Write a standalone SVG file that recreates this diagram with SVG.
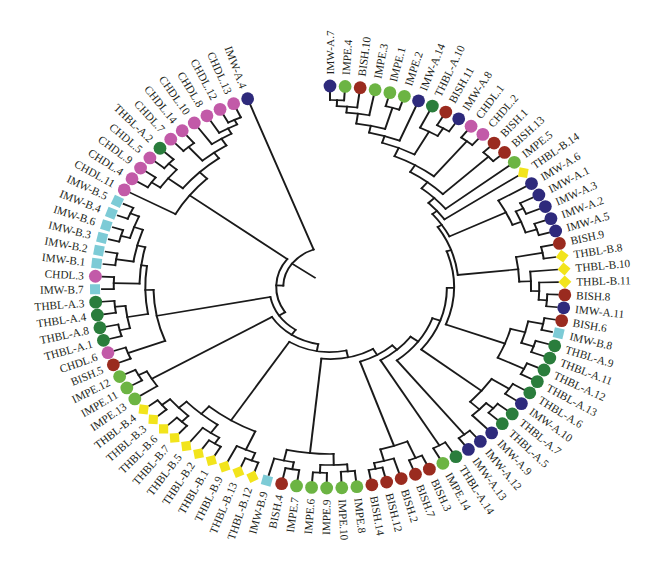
<svg xmlns="http://www.w3.org/2000/svg" xmlns:xlink="http://www.w3.org/1999/xlink" width="660" height="571" viewBox="0 0 660 571">
<style>
.tree line,.tree circle{fill:none;stroke:#1a1a1a;stroke-width:1.7;stroke-linecap:square}
text{font-family:"Liberation Serif","Times New Roman",serif;font-size:11.3px;fill:#231f20}
text.l{text-anchor:end}
.imwa{fill:#2e2a7c}.impe{fill:#6cb443}.bish{fill:#9a2b1f}.thba{fill:#2a7d3c}.chdl{fill:#c25aa8}.thbb{fill:#f2e41c}.imwb{fill:#7dcbd6}
</style>
<defs>
<circle id="o" r="6.4"/>
<rect id="s" x="-5" y="-5" width="10" height="10"/>
<path id="d" d="M0-6.5L6.5 0 0 6.5-6.5 0z"/>
</defs>
<rect width="660" height="571" fill="#fff"/>
<g id="connectors" class="tree" transform="translate(330,287) scale(1.169,1)">
<g id="leaf-branches">
<line y1="-187" y2="-195" transform="rotate(0)"/>
<line y1="-187" y2="-195" transform="rotate(3.69)"/>
<line y1="-181" y2="-195" transform="rotate(7.38)"/>
<line y1="-175" y2="-195" transform="rotate(11.07)"/>
<line y1="-187" y2="-195" transform="rotate(14.76)"/>
<line y1="-187" y2="-195" transform="rotate(18.45)"/>
<line y1="-158" y2="-195" transform="rotate(22.14)"/>
<line y1="-177" y2="-195" transform="rotate(25.83)"/>
<line y1="-186" y2="-195" transform="rotate(29.52)"/>
<line y1="-186" y2="-195" transform="rotate(33.21)"/>
<line y1="-187" y2="-195" transform="rotate(36.9)"/>
<line y1="-187" y2="-195" transform="rotate(40.59)"/>
<line y1="-188" y2="-195" transform="rotate(44.28)"/>
<line y1="-188" y2="-195" transform="rotate(47.97)"/>
<line y1="-126" y2="-195" transform="rotate(51.66)"/>
<line y1="-119" y2="-195" transform="rotate(55.35)"/>
<line y1="-168" y2="-195" transform="rotate(59.04)"/>
<line y1="-183" y2="-195" transform="rotate(62.73)"/>
<line y1="-183" y2="-195" transform="rotate(66.42)"/>
<line y1="-186" y2="-195" transform="rotate(70.11)"/>
<line y1="-186" y2="-195" transform="rotate(73.8)"/>
<line y1="-185" y2="-195" transform="rotate(77.49)"/>
<line y1="-185" y2="-195" transform="rotate(81.18)"/>
<line y1="-172" y2="-195" transform="rotate(84.87)"/>
<line y1="-179" y2="-195" transform="rotate(88.56)"/>
<line y1="-186" y2="-195" transform="rotate(92.25)"/>
<line y1="-186" y2="-195" transform="rotate(95.94)"/>
<line y1="-186" y2="-195" transform="rotate(99.63)"/>
<line y1="-186" y2="-195" transform="rotate(103.32)"/>
<line y1="-184" y2="-195" transform="rotate(107.01)"/>
<line y1="-184" y2="-195" transform="rotate(110.7)"/>
<line y1="-185" y2="-195" transform="rotate(114.39)"/>
<line y1="-185" y2="-195" transform="rotate(118.08)"/>
<line y1="-184" y2="-195" transform="rotate(121.77)"/>
<line y1="-184" y2="-195" transform="rotate(125.46)"/>
<line y1="-185" y2="-195" transform="rotate(129.15)"/>
<line y1="-185" y2="-195" transform="rotate(132.84)"/>
<line y1="-177" y2="-195" transform="rotate(136.53)"/>
<line y1="-187" y2="-195" transform="rotate(140.22)"/>
<line y1="-187" y2="-195" transform="rotate(143.91)"/>
<line y1="-184" y2="-195" transform="rotate(147.6)"/>
<line y1="-184" y2="-195" transform="rotate(151.29)"/>
<line y1="-186" y2="-195" transform="rotate(154.98)"/>
<line y1="-186" y2="-195" transform="rotate(158.67)"/>
<line y1="-180" y2="-195" transform="rotate(162.36)"/>
<line y1="-186" y2="-195" transform="rotate(166.05)"/>
<line y1="-186" y2="-195" transform="rotate(169.74)"/>
<line y1="-185" y2="-195" transform="rotate(173.43)"/>
<line y1="-185" y2="-195" transform="rotate(177.12)"/>
<line y1="-186" y2="-195" transform="rotate(180.81)"/>
<line y1="-186" y2="-195" transform="rotate(184.5)"/>
<line y1="-185" y2="-195" transform="rotate(188.19)"/>
<line y1="-185" y2="-195" transform="rotate(191.88)"/>
<line y1="-178" y2="-195" transform="rotate(195.57)"/>
<line y1="-186" y2="-195" transform="rotate(199.26)"/>
<line y1="-186" y2="-195" transform="rotate(202.95)"/>
<line y1="-178" y2="-195" transform="rotate(206.64)"/>
<line y1="-185" y2="-195" transform="rotate(210.33)"/>
<line y1="-185" y2="-195" transform="rotate(214.02)"/>
<line y1="-178" y2="-195" transform="rotate(217.71)"/>
<line y1="-185" y2="-195" transform="rotate(221.4)"/>
<line y1="-185" y2="-195" transform="rotate(225.09)"/>
<line y1="-186" y2="-195" transform="rotate(228.78)"/>
<line y1="-186" y2="-195" transform="rotate(232.47)"/>
<line y1="-178" y2="-195" transform="rotate(236.16)"/>
<line y1="-186" y2="-195" transform="rotate(239.85)"/>
<line y1="-186" y2="-195" transform="rotate(243.54)"/>
<line y1="-185" y2="-195" transform="rotate(247.23)"/>
<line y1="-185" y2="-195" transform="rotate(250.92)"/>
<line y1="-185" y2="-195" transform="rotate(254.61)"/>
<line y1="-185" y2="-195" transform="rotate(258.3)"/>
<line y1="-185" y2="-195" transform="rotate(261.99)"/>
<line y1="-185" y2="-195" transform="rotate(265.68)"/>
<line y1="-185" y2="-195" transform="rotate(269.37)"/>
<line y1="-185" y2="-195" transform="rotate(273.06)"/>
<line y1="-185" y2="-195" transform="rotate(276.75)"/>
<line y1="-185" y2="-195" transform="rotate(280.44)"/>
<line y1="-186" y2="-195" transform="rotate(284.13)"/>
<line y1="-186" y2="-195" transform="rotate(287.82)"/>
<line y1="-186" y2="-195" transform="rotate(291.51)"/>
<line y1="-186" y2="-195" transform="rotate(295.2)"/>
<line y1="-151" y2="-195" transform="rotate(298.89)"/>
<line y1="-185" y2="-195" transform="rotate(302.58)"/>
<line y1="-185" y2="-195" transform="rotate(306.27)"/>
<line y1="-185" y2="-195" transform="rotate(309.96)"/>
<line y1="-185" y2="-195" transform="rotate(313.65)"/>
<line y1="-185" y2="-195" transform="rotate(317.34)"/>
<line y1="-185" y2="-195" transform="rotate(321.03)"/>
<line y1="-175" y2="-195" transform="rotate(324.72)"/>
<line y1="-181" y2="-195" transform="rotate(328.41)"/>
<line y1="-186" y2="-195" transform="rotate(332.1)"/>
<line y1="-186" y2="-195" transform="rotate(335.79)"/>
<line y1="-40" y2="-195" transform="rotate(339.48)"/>
</g>
<g id="inner-branches">
<line y1="-181" y2="-187" transform="rotate(1.845)"/>
<line y1="-175" y2="-181" transform="rotate(4.61)"/>
<line y1="-165" y2="-175" transform="rotate(7.84)"/>
<line y1="-165" y2="-187" transform="rotate(16.6)"/>
<line y1="-158" y2="-165" transform="rotate(12.22)"/>
<line y1="-151" y2="-158" transform="rotate(17.18)"/>
<line y1="-177" y2="-186" transform="rotate(31.37)"/>
<line y1="-151" y2="-177" transform="rotate(28.6)"/>
<line y1="-142" y2="-151" transform="rotate(22.89)"/>
<line y1="-142" y2="-187" transform="rotate(38.75)"/>
<line y1="-134" y2="-142" transform="rotate(30.82)"/>
<line y1="-134" y2="-188" transform="rotate(46.13)"/>
<line y1="-126" y2="-134" transform="rotate(38.48)"/>
<line y1="-119" y2="-126" transform="rotate(45.07)"/>
<line y1="-114" y2="-119" transform="rotate(50.21)"/>
<line y1="-176" y2="-183" transform="rotate(64.58)"/>
<line y1="-176" y2="-186" transform="rotate(71.96)"/>
<line y1="-168" y2="-176" transform="rotate(68.27)"/>
<line y1="-114" y2="-168" transform="rotate(63.66)"/>
<line y1="-110" y2="-114" transform="rotate(56.94)"/>
<line y1="-162" y2="-185" transform="rotate(79.34)"/>
<line y1="-179" y2="-186" transform="rotate(94.1)"/>
<line y1="-172" y2="-179" transform="rotate(91.33)"/>
<line y1="-162" y2="-172" transform="rotate(88.1)"/>
<line y1="-110" y2="-162" transform="rotate(83.72)"/>
<line y1="-106" y2="-110" transform="rotate(70.33)"/>
<line y1="-173" y2="-186" transform="rotate(101.48)"/>
<line y1="-173" y2="-184" transform="rotate(108.86)"/>
<line y1="-160" y2="-173" transform="rotate(105.17)"/>
<line y1="-160" y2="-185" transform="rotate(116.24)"/>
<line y1="-106" y2="-160" transform="rotate(110.7)"/>
<line y1="-100" y2="-106" transform="rotate(90.52)"/>
<line y1="-166" y2="-184" transform="rotate(123.62)"/>
<line y1="-177" y2="-185" transform="rotate(131)"/>
<line y1="-166" y2="-177" transform="rotate(133.76)"/>
<line y1="-100" y2="-166" transform="rotate(128.69)"/>
<line y1="-93" y2="-100" transform="rotate(109.6)"/>
<line y1="-93" y2="-187" transform="rotate(142.07)"/>
<line y1="-85" y2="-93" transform="rotate(125.84)"/>
<line y1="-85" y2="-184" transform="rotate(149.45)"/>
<line y1="-79" y2="-85" transform="rotate(137.64)"/>
<line y1="-168" y2="-186" transform="rotate(156.83)"/>
<line y1="-180" y2="-186" transform="rotate(167.9)"/>
<line y1="-168" y2="-180" transform="rotate(165.13)"/>
<line y1="-79" y2="-168" transform="rotate(160.98)"/>
<line y1="-72" y2="-79" transform="rotate(149.31)"/>
<line y1="-178" y2="-185" transform="rotate(175.28)"/>
<line y1="-178" y2="-186" transform="rotate(182.66)"/>
<line y1="-167" y2="-178" transform="rotate(178.97)"/>
<line y1="-178" y2="-185" transform="rotate(190.04)"/>
<line y1="-167" y2="-178" transform="rotate(192.8)"/>
<line y1="-72" y2="-167" transform="rotate(185.89)"/>
<line y1="-65" y2="-72" transform="rotate(167.6)"/>
<line y1="-178" y2="-186" transform="rotate(201.1)"/>
<line y1="-158" y2="-178" transform="rotate(203.87)"/>
<line y1="-178" y2="-185" transform="rotate(212.18)"/>
<line y1="-168" y2="-178" transform="rotate(214.94)"/>
<line y1="-177" y2="-185" transform="rotate(223.24)"/>
<line y1="-177" y2="-186" transform="rotate(230.63)"/>
<line y1="-168" y2="-177" transform="rotate(226.93)"/>
<line y1="-158" y2="-168" transform="rotate(220.93)"/>
<line y1="-65" y2="-158" transform="rotate(212.4)"/>
<line y1="-58" y2="-65" transform="rotate(190)"/>
<line y1="-178" y2="-186" transform="rotate(241.7)"/>
<line y1="-58" y2="-178" transform="rotate(238.93)"/>
<line y1="-52" y2="-58" transform="rotate(214.47)"/>
<line y1="-151" y2="-185" transform="rotate(249.08)"/>
<line y1="-176" y2="-185" transform="rotate(256.46)"/>
<line y1="-176" y2="-185" transform="rotate(263.84)"/>
<line y1="-158" y2="-176" transform="rotate(260.15)"/>
<line y1="-163" y2="-185" transform="rotate(271.22)"/>
<line y1="-170" y2="-185" transform="rotate(278.6)"/>
<line y1="-178" y2="-186" transform="rotate(285.98)"/>
<line y1="-178" y2="-186" transform="rotate(293.36)"/>
<line y1="-170" y2="-178" transform="rotate(289.67)"/>
<line y1="-163" y2="-170" transform="rotate(284.13)"/>
<line y1="-158" y2="-163" transform="rotate(277.68)"/>
<line y1="-151" y2="-158" transform="rotate(268.91)"/>
<line y1="-52" y2="-151" transform="rotate(258.99)"/>
<line y1="-46" y2="-52" transform="rotate(236.73)"/>
<line y1="-181" y2="-186" transform="rotate(333.95)"/>
<line y1="-175" y2="-181" transform="rotate(331.18)"/>
<line y1="-167" y2="-175" transform="rotate(327.95)"/>
<line y1="-167" y2="-185" transform="rotate(319.19)"/>
<line y1="-160" y2="-167" transform="rotate(323.57)"/>
<line y1="-176" y2="-185" transform="rotate(311.81)"/>
<line y1="-176" y2="-185" transform="rotate(304.43)"/>
<line y1="-160" y2="-176" transform="rotate(308.12)"/>
<line y1="-151" y2="-160" transform="rotate(315.85)"/>
<line y1="-46" y2="-151" transform="rotate(307.37)"/>
<line y1="-40" y2="-46" transform="rotate(272.05)"/>
<line y1="-16" y2="-40" transform="rotate(305.77)"/>
</g>
<g id="arcs">
<circle r="187" pathLength="360" stroke-dasharray="3.69 360" transform="rotate(-90)"/>
<circle r="181" pathLength="360" stroke-dasharray="5.535 360" transform="rotate(-88.155)"/>
<circle r="175" pathLength="360" stroke-dasharray="6.46 360" transform="rotate(-85.39)"/>
<circle r="187" pathLength="360" stroke-dasharray="3.69 360" transform="rotate(-75.24)"/>
<circle r="165" pathLength="360" stroke-dasharray="8.76 360" transform="rotate(-82.16)"/>
<circle r="158" pathLength="360" stroke-dasharray="9.92 360" transform="rotate(-77.78)"/>
<circle r="186" pathLength="360" stroke-dasharray="3.69 360" transform="rotate(-60.48)"/>
<circle r="177" pathLength="360" stroke-dasharray="5.54 360" transform="rotate(-64.17)"/>
<circle r="151" pathLength="360" stroke-dasharray="11.42 360" transform="rotate(-72.82)"/>
<circle r="187" pathLength="360" stroke-dasharray="3.69 360" transform="rotate(-53.1)"/>
<circle r="142" pathLength="360" stroke-dasharray="15.86 360" transform="rotate(-67.11)"/>
<circle r="188" pathLength="360" stroke-dasharray="3.69 360" transform="rotate(-45.72)"/>
<circle r="134" pathLength="360" stroke-dasharray="15.31 360" transform="rotate(-59.18)"/>
<circle r="126" pathLength="360" stroke-dasharray="13.18 360" transform="rotate(-51.52)"/>
<circle r="119" pathLength="360" stroke-dasharray="10.28 360" transform="rotate(-44.93)"/>
<circle r="183" pathLength="360" stroke-dasharray="3.69 360" transform="rotate(-27.27)"/>
<circle r="186" pathLength="360" stroke-dasharray="3.69 360" transform="rotate(-19.89)"/>
<circle r="176" pathLength="360" stroke-dasharray="7.38 360" transform="rotate(-25.42)"/>
<circle r="168" pathLength="360" stroke-dasharray="9.23 360" transform="rotate(-30.96)"/>
<circle r="114" pathLength="360" stroke-dasharray="13.45 360" transform="rotate(-39.79)"/>
<circle r="185" pathLength="360" stroke-dasharray="3.69 360" transform="rotate(-12.51)"/>
<circle r="186" pathLength="360" stroke-dasharray="3.69 360" transform="rotate(2.25)"/>
<circle r="179" pathLength="360" stroke-dasharray="5.54 360" transform="rotate(-1.44)"/>
<circle r="172" pathLength="360" stroke-dasharray="6.46 360" transform="rotate(-5.13)"/>
<circle r="162" pathLength="360" stroke-dasharray="8.76 360" transform="rotate(-10.66)"/>
<circle r="110" pathLength="360" stroke-dasharray="26.78 360" transform="rotate(-33.06)"/>
<circle r="186" pathLength="360" stroke-dasharray="3.69 360" transform="rotate(9.63)"/>
<circle r="184" pathLength="360" stroke-dasharray="3.69 360" transform="rotate(17.01)"/>
<circle r="173" pathLength="360" stroke-dasharray="7.38 360" transform="rotate(11.48)"/>
<circle r="185" pathLength="360" stroke-dasharray="3.69 360" transform="rotate(24.39)"/>
<circle r="160" pathLength="360" stroke-dasharray="11.07 360" transform="rotate(15.17)"/>
<circle r="106" pathLength="360" stroke-dasharray="40.37 360" transform="rotate(-19.67)"/>
<circle r="184" pathLength="360" stroke-dasharray="3.69 360" transform="rotate(31.77)"/>
<circle r="185" pathLength="360" stroke-dasharray="3.69 360" transform="rotate(39.15)"/>
<circle r="177" pathLength="360" stroke-dasharray="5.53 360" transform="rotate(41)"/>
<circle r="166" pathLength="360" stroke-dasharray="10.14 360" transform="rotate(33.62)"/>
<circle r="100" pathLength="360" stroke-dasharray="38.17 360" transform="rotate(0.52)"/>
<circle r="187" pathLength="360" stroke-dasharray="3.69 360" transform="rotate(50.22)"/>
<circle r="93" pathLength="360" stroke-dasharray="32.47 360" transform="rotate(19.6)"/>
<circle r="184" pathLength="360" stroke-dasharray="3.69 360" transform="rotate(57.6)"/>
<circle r="85" pathLength="360" stroke-dasharray="23.61 360" transform="rotate(35.84)"/>
<circle r="186" pathLength="360" stroke-dasharray="3.69 360" transform="rotate(64.98)"/>
<circle r="186" pathLength="360" stroke-dasharray="3.69 360" transform="rotate(76.05)"/>
<circle r="180" pathLength="360" stroke-dasharray="5.54 360" transform="rotate(72.36)"/>
<circle r="168" pathLength="360" stroke-dasharray="8.3 360" transform="rotate(66.83)"/>
<circle r="79" pathLength="360" stroke-dasharray="23.34 360" transform="rotate(47.64)"/>
<circle r="185" pathLength="360" stroke-dasharray="3.69 360" transform="rotate(83.43)"/>
<circle r="186" pathLength="360" stroke-dasharray="3.69 360" transform="rotate(90.81)"/>
<circle r="178" pathLength="360" stroke-dasharray="7.38 360" transform="rotate(85.28)"/>
<circle r="185" pathLength="360" stroke-dasharray="3.69 360" transform="rotate(98.19)"/>
<circle r="178" pathLength="360" stroke-dasharray="5.53 360" transform="rotate(100.04)"/>
<circle r="167" pathLength="360" stroke-dasharray="13.83 360" transform="rotate(88.97)"/>
<circle r="72" pathLength="360" stroke-dasharray="36.58 360" transform="rotate(59.31)"/>
<circle r="186" pathLength="360" stroke-dasharray="3.69 360" transform="rotate(109.26)"/>
<circle r="178" pathLength="360" stroke-dasharray="5.54 360" transform="rotate(111.1)"/>
<circle r="185" pathLength="360" stroke-dasharray="3.69 360" transform="rotate(120.33)"/>
<circle r="178" pathLength="360" stroke-dasharray="5.53 360" transform="rotate(122.18)"/>
<circle r="185" pathLength="360" stroke-dasharray="3.69 360" transform="rotate(131.4)"/>
<circle r="186" pathLength="360" stroke-dasharray="3.69 360" transform="rotate(138.78)"/>
<circle r="177" pathLength="360" stroke-dasharray="7.39 360" transform="rotate(133.24)"/>
<circle r="168" pathLength="360" stroke-dasharray="11.99 360" transform="rotate(124.94)"/>
<circle r="158" pathLength="360" stroke-dasharray="17.06 360" transform="rotate(113.87)"/>
<circle r="65" pathLength="360" stroke-dasharray="44.8 360" transform="rotate(77.6)"/>
<circle r="186" pathLength="360" stroke-dasharray="3.69 360" transform="rotate(149.85)"/>
<circle r="178" pathLength="360" stroke-dasharray="5.54 360" transform="rotate(146.16)"/>
<circle r="58" pathLength="360" stroke-dasharray="48.93 360" transform="rotate(100)"/>
<circle r="185" pathLength="360" stroke-dasharray="3.69 360" transform="rotate(157.23)"/>
<circle r="185" pathLength="360" stroke-dasharray="3.69 360" transform="rotate(164.61)"/>
<circle r="185" pathLength="360" stroke-dasharray="3.69 360" transform="rotate(171.99)"/>
<circle r="176" pathLength="360" stroke-dasharray="7.38 360" transform="rotate(166.46)"/>
<circle r="185" pathLength="360" stroke-dasharray="3.69 360" transform="rotate(179.37)"/>
<circle r="185" pathLength="360" stroke-dasharray="3.69 360" transform="rotate(186.75)"/>
<circle r="186" pathLength="360" stroke-dasharray="3.69 360" transform="rotate(194.13)"/>
<circle r="186" pathLength="360" stroke-dasharray="3.69 360" transform="rotate(201.51)"/>
<circle r="178" pathLength="360" stroke-dasharray="7.38 360" transform="rotate(195.98)"/>
<circle r="170" pathLength="360" stroke-dasharray="11.07 360" transform="rotate(188.6)"/>
<circle r="163" pathLength="360" stroke-dasharray="12.91 360" transform="rotate(181.22)"/>
<circle r="158" pathLength="360" stroke-dasharray="17.53 360" transform="rotate(170.15)"/>
<circle r="151" pathLength="360" stroke-dasharray="19.83 360" transform="rotate(159.08)"/>
<circle r="52" pathLength="360" stroke-dasharray="44.52 360" transform="rotate(124.47)"/>
<circle r="186" pathLength="360" stroke-dasharray="3.69 360" transform="rotate(242.1)"/>
<circle r="181" pathLength="360" stroke-dasharray="5.54 360" transform="rotate(238.41)"/>
<circle r="175" pathLength="360" stroke-dasharray="6.46 360" transform="rotate(234.72)"/>
<circle r="185" pathLength="360" stroke-dasharray="3.69 360" transform="rotate(227.34)"/>
<circle r="167" pathLength="360" stroke-dasharray="8.76 360" transform="rotate(229.19)"/>
<circle r="185" pathLength="360" stroke-dasharray="3.69 360" transform="rotate(219.96)"/>
<circle r="185" pathLength="360" stroke-dasharray="3.69 360" transform="rotate(212.58)"/>
<circle r="176" pathLength="360" stroke-dasharray="7.38 360" transform="rotate(214.43)"/>
<circle r="160" pathLength="360" stroke-dasharray="15.45 360" transform="rotate(218.12)"/>
<circle r="151" pathLength="360" stroke-dasharray="16.96 360" transform="rotate(208.89)"/>
<circle r="46" pathLength="360" stroke-dasharray="70.64 360" transform="rotate(146.73)"/>
<circle r="40" pathLength="360" stroke-dasharray="67.43 360" transform="rotate(182.05)"/>
</g>
</g>
<g id="leaves">
<g id="n00" transform="translate(330,287) scale(1.169,1) rotate(0) translate(0,-201) rotate(0) scale(.8554,1)"><use href="#o" class="imwa"/><text transform="rotate(-90)" x="11.5" dy=".35em">IMW-A.7</text></g>
<g id="n01" transform="translate(330,287) scale(1.169,1) rotate(3.69) translate(0,-201) rotate(-3.69) scale(.8554,1)"><use href="#o" class="impe"/><text transform="rotate(-86.31)" x="11.5" dy=".35em">IMPE.4</text></g>
<g id="n02" transform="translate(330,287) scale(1.169,1) rotate(7.38) translate(0,-201) rotate(-7.38) scale(.8554,1)"><use href="#o" class="bish"/><text transform="rotate(-82.62)" x="11.5" dy=".35em">BISH.10</text></g>
<g id="n03" transform="translate(330,287) scale(1.169,1) rotate(11.07) translate(0,-201) rotate(-11.07) scale(.8554,1)"><use href="#o" class="impe"/><text transform="rotate(-78.93)" x="11.5" dy=".35em">IMPE.3</text></g>
<g id="n04" transform="translate(330,287) scale(1.169,1) rotate(14.76) translate(0,-201) rotate(-14.76) scale(.8554,1)"><use href="#o" class="impe"/><text transform="rotate(-75.24)" x="11.5" dy=".35em">IMPE.1</text></g>
<g id="n05" transform="translate(330,287) scale(1.169,1) rotate(18.45) translate(0,-201) rotate(-18.45) scale(.8554,1)"><use href="#o" class="impe"/><text transform="rotate(-71.55)" x="11.5" dy=".35em">IMPE.2</text></g>
<g id="n06" transform="translate(330,287) scale(1.169,1) rotate(22.14) translate(0,-201) rotate(-22.14) scale(.8554,1)"><use href="#o" class="imwa"/><text transform="rotate(-67.86)" x="11.5" dy=".35em">IMW-A.14</text></g>
<g id="n07" transform="translate(330,287) scale(1.169,1) rotate(25.83) translate(0,-201) rotate(-25.83) scale(.8554,1)"><use href="#o" class="thba"/><text transform="rotate(-64.17)" x="11.5" dy=".35em">THBL-A.10</text></g>
<g id="n08" transform="translate(330,287) scale(1.169,1) rotate(29.52) translate(0,-201) rotate(-29.52) scale(.8554,1)"><use href="#o" class="bish"/><text transform="rotate(-60.48)" x="11.5" dy=".35em">BISH.11</text></g>
<g id="n09" transform="translate(330,287) scale(1.169,1) rotate(33.21) translate(0,-201) rotate(-33.21) scale(.8554,1)"><use href="#o" class="imwa"/><text transform="rotate(-56.79)" x="11.5" dy=".35em">IMW-A.8</text></g>
<g id="n10" transform="translate(330,287) scale(1.169,1) rotate(36.9) translate(0,-201) rotate(-36.9) scale(.8554,1)"><use href="#o" class="chdl"/><text transform="rotate(-53.1)" x="11.5" dy=".35em">CHDL.1</text></g>
<g id="n11" transform="translate(330,287) scale(1.169,1) rotate(40.59) translate(0,-201) rotate(-40.59) scale(.8554,1)"><use href="#o" class="chdl"/><text transform="rotate(-49.41)" x="11.5" dy=".35em">CHDL.2</text></g>
<g id="n12" transform="translate(330,287) scale(1.169,1) rotate(44.28) translate(0,-201) rotate(-44.28) scale(.8554,1)"><use href="#o" class="bish"/><text transform="rotate(-45.72)" x="11.5" dy=".35em">BISH.1</text></g>
<g id="n13" transform="translate(330,287) scale(1.169,1) rotate(47.97) translate(0,-201) rotate(-47.97) scale(.8554,1)"><use href="#o" class="bish"/><text transform="rotate(-42.03)" x="11.5" dy=".35em">BISH.13</text></g>
<g id="n14" transform="translate(330,287) scale(1.169,1) rotate(51.66) translate(0,-201) rotate(-51.66) scale(.8554,1)"><use href="#o" class="impe"/><text transform="rotate(-38.34)" x="11.5" dy=".35em">IMPE.5</text></g>
<g id="n15" transform="translate(330,287) scale(1.169,1) rotate(55.35) translate(0,-201) rotate(-55.35) scale(.8554,1)"><use href="#d" class="thbb" transform="rotate(55.35)"/><text transform="rotate(-34.65)" x="11.5" dy=".35em">THBL-B.14</text></g>
<g id="n16" transform="translate(330,287) scale(1.169,1) rotate(59.04) translate(0,-201) rotate(-59.04) scale(.8554,1)"><use href="#o" class="imwa"/><text transform="rotate(-30.96)" x="11.5" dy=".35em">IMW-A.6</text></g>
<g id="n17" transform="translate(330,287) scale(1.169,1) rotate(62.73) translate(0,-201) rotate(-62.73) scale(.8554,1)"><use href="#o" class="imwa"/><text transform="rotate(-27.27)" x="11.5" dy=".35em">IMW-A.1</text></g>
<g id="n18" transform="translate(330,287) scale(1.169,1) rotate(66.42) translate(0,-201) rotate(-66.42) scale(.8554,1)"><use href="#o" class="imwa"/><text transform="rotate(-23.58)" x="11.5" dy=".35em">IMW-A.3</text></g>
<g id="n19" transform="translate(330,287) scale(1.169,1) rotate(70.11) translate(0,-201) rotate(-70.11) scale(.8554,1)"><use href="#o" class="imwa"/><text transform="rotate(-19.89)" x="11.5" dy=".35em">IMW-A.2</text></g>
<g id="n20" transform="translate(330,287) scale(1.169,1) rotate(73.8) translate(0,-201) rotate(-73.8) scale(.8554,1)"><use href="#o" class="imwa"/><text transform="rotate(-16.2)" x="11.5" dy=".35em">IMW-A.5</text></g>
<g id="n21" transform="translate(330,287) scale(1.169,1) rotate(77.49) translate(0,-201) rotate(-77.49) scale(.8554,1)"><use href="#o" class="bish"/><text transform="rotate(-12.51)" x="11.5" dy=".35em">BISH.9</text></g>
<g id="n22" transform="translate(330,287) scale(1.169,1) rotate(81.18) translate(0,-201) rotate(-81.18) scale(.8554,1)"><use href="#d" class="thbb" transform="rotate(81.18)"/><text transform="rotate(-8.82)" x="11.5" dy=".35em">THBL-B.8</text></g>
<g id="n23" transform="translate(330,287) scale(1.169,1) rotate(84.87) translate(0,-201) rotate(-84.87) scale(.8554,1)"><use href="#d" class="thbb" transform="rotate(84.87)"/><text transform="rotate(-5.13)" x="11.5" dy=".35em">THBL-B.10</text></g>
<g id="n24" transform="translate(330,287) scale(1.169,1) rotate(88.56) translate(0,-201) rotate(-88.56) scale(.8554,1)"><use href="#d" class="thbb" transform="rotate(88.56)"/><text transform="rotate(-1.44)" x="11.5" dy=".35em">THBL-B.11</text></g>
<g id="n25" transform="translate(330,287) scale(1.169,1) rotate(92.25) translate(0,-201) rotate(-92.25) scale(.8554,1)"><use href="#o" class="bish"/><text transform="rotate(2.25)" x="11.5" dy=".35em">BISH.8</text></g>
<g id="n26" transform="translate(330,287) scale(1.169,1) rotate(95.94) translate(0,-201) rotate(-95.94) scale(.8554,1)"><use href="#o" class="imwa"/><text transform="rotate(5.94)" x="11.5" dy=".35em">IMW-A.11</text></g>
<g id="n27" transform="translate(330,287) scale(1.169,1) rotate(99.63) translate(0,-201) rotate(-99.63) scale(.8554,1)"><use href="#o" class="bish"/><text transform="rotate(9.63)" x="11.5" dy=".35em">BISH.6</text></g>
<g id="n28" transform="translate(330,287) scale(1.169,1) rotate(103.32) translate(0,-201) rotate(-103.32) scale(.8554,1)"><use href="#s" class="imwb" transform="rotate(103.32)"/><text transform="rotate(13.32)" x="11.5" dy=".35em">IMW-B.8</text></g>
<g id="n29" transform="translate(330,287) scale(1.169,1) rotate(107.01) translate(0,-201) rotate(-107.01) scale(.8554,1)"><use href="#o" class="thba"/><text transform="rotate(17.01)" x="11.5" dy=".35em">THBL-A.9</text></g>
<g id="n30" transform="translate(330,287) scale(1.169,1) rotate(110.7) translate(0,-201) rotate(-110.7) scale(.8554,1)"><use href="#o" class="thba"/><text transform="rotate(20.7)" x="11.5" dy=".35em">THBL-A.11</text></g>
<g id="n31" transform="translate(330,287) scale(1.169,1) rotate(114.39) translate(0,-201) rotate(-114.39) scale(.8554,1)"><use href="#o" class="thba"/><text transform="rotate(24.39)" x="11.5" dy=".35em">THBL-A.12</text></g>
<g id="n32" transform="translate(330,287) scale(1.169,1) rotate(118.08) translate(0,-201) rotate(-118.08) scale(.8554,1)"><use href="#o" class="thba"/><text transform="rotate(28.08)" x="11.5" dy=".35em">THBL-A.13</text></g>
<g id="n33" transform="translate(330,287) scale(1.169,1) rotate(121.77) translate(0,-201) rotate(-121.77) scale(.8554,1)"><use href="#o" class="thba"/><text transform="rotate(31.77)" x="11.5" dy=".35em">THBL-A.6</text></g>
<g id="n34" transform="translate(330,287) scale(1.169,1) rotate(125.46) translate(0,-201) rotate(-125.46) scale(.8554,1)"><use href="#o" class="imwa"/><text transform="rotate(35.46)" x="11.5" dy=".35em">IMW-A.10</text></g>
<g id="n35" transform="translate(330,287) scale(1.169,1) rotate(129.15) translate(0,-201) rotate(-129.15) scale(.8554,1)"><use href="#o" class="thba"/><text transform="rotate(39.15)" x="11.5" dy=".35em">THBL-A.7</text></g>
<g id="n36" transform="translate(330,287) scale(1.169,1) rotate(132.84) translate(0,-201) rotate(-132.84) scale(.8554,1)"><use href="#o" class="thba"/><text transform="rotate(42.84)" x="11.5" dy=".35em">THBL-A.5</text></g>
<g id="n37" transform="translate(330,287) scale(1.169,1) rotate(136.53) translate(0,-201) rotate(-136.53) scale(.8554,1)"><use href="#o" class="imwa"/><text transform="rotate(46.53)" x="11.5" dy=".35em">IMW-A.9</text></g>
<g id="n38" transform="translate(330,287) scale(1.169,1) rotate(140.22) translate(0,-201) rotate(-140.22) scale(.8554,1)"><use href="#o" class="imwa"/><text transform="rotate(50.22)" x="11.5" dy=".35em">IMW-A.12</text></g>
<g id="n39" transform="translate(330,287) scale(1.169,1) rotate(143.91) translate(0,-201) rotate(-143.91) scale(.8554,1)"><use href="#o" class="imwa"/><text transform="rotate(53.91)" x="11.5" dy=".35em">IMW-A.13</text></g>
<g id="n40" transform="translate(330,287) scale(1.169,1) rotate(147.6) translate(0,-201) rotate(-147.6) scale(.8554,1)"><use href="#o" class="thba"/><text transform="rotate(57.6)" x="11.5" dy=".35em">THBL-A.14</text></g>
<g id="n41" transform="translate(330,287) scale(1.169,1) rotate(151.29) translate(0,-201) rotate(-151.29) scale(.8554,1)"><use href="#o" class="impe"/><text transform="rotate(61.29)" x="11.5" dy=".35em">IMPE.14</text></g>
<g id="n42" transform="translate(330,287) scale(1.169,1) rotate(154.98) translate(0,-201) rotate(-154.98) scale(.8554,1)"><use href="#o" class="bish"/><text transform="rotate(64.98)" x="11.5" dy=".35em">BISH.3</text></g>
<g id="n43" transform="translate(330,287) scale(1.169,1) rotate(158.67) translate(0,-201) rotate(-158.67) scale(.8554,1)"><use href="#o" class="bish"/><text transform="rotate(68.67)" x="11.5" dy=".35em">BISH.7</text></g>
<g id="n44" transform="translate(330,287) scale(1.169,1) rotate(162.36) translate(0,-201) rotate(-162.36) scale(.8554,1)"><use href="#o" class="bish"/><text transform="rotate(72.36)" x="11.5" dy=".35em">BISH.2</text></g>
<g id="n45" transform="translate(330,287) scale(1.169,1) rotate(166.05) translate(0,-201) rotate(-166.05) scale(.8554,1)"><use href="#o" class="bish"/><text transform="rotate(76.05)" x="11.5" dy=".35em">BISH.12</text></g>
<g id="n46" transform="translate(330,287) scale(1.169,1) rotate(169.74) translate(0,-201) rotate(-169.74) scale(.8554,1)"><use href="#o" class="bish"/><text transform="rotate(79.74)" x="11.5" dy=".35em">BISH.14</text></g>
<g id="n47" transform="translate(330,287) scale(1.169,1) rotate(173.43) translate(0,-201) rotate(-173.43) scale(.8554,1)"><use href="#o" class="impe"/><text transform="rotate(83.43)" x="11.5" dy=".35em">IMPE.8</text></g>
<g id="n48" transform="translate(330,287) scale(1.169,1) rotate(177.12) translate(0,-201) rotate(-177.12) scale(.8554,1)"><use href="#o" class="impe"/><text transform="rotate(87.12)" x="11.5" dy=".35em">IMPE.10</text></g>
<g id="n49" transform="translate(330,287) scale(1.169,1) rotate(180.81) translate(0,-201) rotate(-180.81) scale(.8554,1)"><use href="#o" class="impe"/><text class="l" transform="rotate(-89.19)" x="-11.5" dy=".35em">IMPE.9</text></g>
<g id="n50" transform="translate(330,287) scale(1.169,1) rotate(184.5) translate(0,-201) rotate(-184.5) scale(.8554,1)"><use href="#o" class="impe"/><text class="l" transform="rotate(-85.5)" x="-11.5" dy=".35em">IMPE.6</text></g>
<g id="n51" transform="translate(330,287) scale(1.169,1) rotate(188.19) translate(0,-201) rotate(-188.19) scale(.8554,1)"><use href="#o" class="impe"/><text class="l" transform="rotate(-81.81)" x="-11.5" dy=".35em">IMPE.7</text></g>
<g id="n52" transform="translate(330,287) scale(1.169,1) rotate(191.88) translate(0,-201) rotate(-191.88) scale(.8554,1)"><use href="#o" class="bish"/><text class="l" transform="rotate(-78.12)" x="-11.5" dy=".35em">BISH.4</text></g>
<g id="n53" transform="translate(330,287) scale(1.169,1) rotate(195.57) translate(0,-201) rotate(-195.57) scale(.8554,1)"><use href="#s" class="imwb" transform="rotate(195.57)"/><text class="l" transform="rotate(-74.43)" x="-11.5" dy=".35em">IMW-B.9</text></g>
<g id="n54" transform="translate(330,287) scale(1.169,1) rotate(199.26) translate(0,-201) rotate(-199.26) scale(.8554,1)"><use href="#d" class="thbb" transform="rotate(199.26)"/><text class="l" transform="rotate(-70.74)" x="-11.5" dy=".35em">THBL-B.12</text></g>
<g id="n55" transform="translate(330,287) scale(1.169,1) rotate(202.95) translate(0,-201) rotate(-202.95) scale(.8554,1)"><use href="#d" class="thbb" transform="rotate(202.95)"/><text class="l" transform="rotate(-67.05)" x="-11.5" dy=".35em">THBL-B.13</text></g>
<g id="n56" transform="translate(330,287) scale(1.169,1) rotate(206.64) translate(0,-201) rotate(-206.64) scale(.8554,1)"><use href="#d" class="thbb" transform="rotate(206.64)"/><text class="l" transform="rotate(-63.36)" x="-11.5" dy=".35em">THBL-B.9</text></g>
<g id="n57" transform="translate(330,287) scale(1.169,1) rotate(210.33) translate(0,-201) rotate(-210.33) scale(.8554,1)"><use href="#d" class="thbb" transform="rotate(210.33)"/><text class="l" transform="rotate(-59.67)" x="-11.5" dy=".35em">THBL-B.1</text></g>
<g id="n58" transform="translate(330,287) scale(1.169,1) rotate(214.02) translate(0,-201) rotate(-214.02) scale(.8554,1)"><use href="#d" class="thbb" transform="rotate(214.02)"/><text class="l" transform="rotate(-55.98)" x="-11.5" dy=".35em">THBL-B.2</text></g>
<g id="n59" transform="translate(330,287) scale(1.169,1) rotate(217.71) translate(0,-201) rotate(-217.71) scale(.8554,1)"><use href="#d" class="thbb" transform="rotate(217.71)"/><text class="l" transform="rotate(-52.29)" x="-11.5" dy=".35em">THBL-B.5</text></g>
<g id="n60" transform="translate(330,287) scale(1.169,1) rotate(221.4) translate(0,-201) rotate(-221.4) scale(.8554,1)"><use href="#d" class="thbb" transform="rotate(221.4)"/><text class="l" transform="rotate(-48.6)" x="-11.5" dy=".35em">THBL-B.7</text></g>
<g id="n61" transform="translate(330,287) scale(1.169,1) rotate(225.09) translate(0,-201) rotate(-225.09) scale(.8554,1)"><use href="#d" class="thbb" transform="rotate(225.09)"/><text class="l" transform="rotate(-44.91)" x="-11.5" dy=".35em">THBL-B.6</text></g>
<g id="n62" transform="translate(330,287) scale(1.169,1) rotate(228.78) translate(0,-201) rotate(-228.78) scale(.8554,1)"><use href="#d" class="thbb" transform="rotate(228.78)"/><text class="l" transform="rotate(-41.22)" x="-11.5" dy=".35em">THBL-B.3</text></g>
<g id="n63" transform="translate(330,287) scale(1.169,1) rotate(232.47) translate(0,-201) rotate(-232.47) scale(.8554,1)"><use href="#d" class="thbb" transform="rotate(232.47)"/><text class="l" transform="rotate(-37.53)" x="-11.5" dy=".35em">THBL-B.4</text></g>
<g id="n64" transform="translate(330,287) scale(1.169,1) rotate(236.16) translate(0,-201) rotate(-236.16) scale(.8554,1)"><use href="#o" class="impe"/><text class="l" transform="rotate(-33.84)" x="-11.5" dy=".35em">IMPE.13</text></g>
<g id="n65" transform="translate(330,287) scale(1.169,1) rotate(239.85) translate(0,-201) rotate(-239.85) scale(.8554,1)"><use href="#o" class="impe"/><text class="l" transform="rotate(-30.15)" x="-11.5" dy=".35em">IMPE.11</text></g>
<g id="n66" transform="translate(330,287) scale(1.169,1) rotate(243.54) translate(0,-201) rotate(-243.54) scale(.8554,1)"><use href="#o" class="impe"/><text class="l" transform="rotate(-26.46)" x="-11.5" dy=".35em">IMPE.12</text></g>
<g id="n67" transform="translate(330,287) scale(1.169,1) rotate(247.23) translate(0,-201) rotate(-247.23) scale(.8554,1)"><use href="#o" class="bish"/><text class="l" transform="rotate(-22.77)" x="-11.5" dy=".35em">BISH.5</text></g>
<g id="n68" transform="translate(330,287) scale(1.169,1) rotate(250.92) translate(0,-201) rotate(-250.92) scale(.8554,1)"><use href="#o" class="chdl"/><text class="l" transform="rotate(-19.08)" x="-11.5" dy=".35em">CHDL.6</text></g>
<g id="n69" transform="translate(330,287) scale(1.169,1) rotate(254.61) translate(0,-201) rotate(-254.61) scale(.8554,1)"><use href="#o" class="thba"/><text class="l" transform="rotate(-15.39)" x="-11.5" dy=".35em">THBL-A.1</text></g>
<g id="n70" transform="translate(330,287) scale(1.169,1) rotate(258.3) translate(0,-201) rotate(-258.3) scale(.8554,1)"><use href="#o" class="thba"/><text class="l" transform="rotate(-11.7)" x="-11.5" dy=".35em">THBL-A.8</text></g>
<g id="n71" transform="translate(330,287) scale(1.169,1) rotate(261.99) translate(0,-201) rotate(-261.99) scale(.8554,1)"><use href="#o" class="thba"/><text class="l" transform="rotate(-8.01)" x="-11.5" dy=".35em">THBL-A.4</text></g>
<g id="n72" transform="translate(330,287) scale(1.169,1) rotate(265.68) translate(0,-201) rotate(-265.68) scale(.8554,1)"><use href="#o" class="thba"/><text class="l" transform="rotate(-4.32)" x="-11.5" dy=".35em">THBL-A.3</text></g>
<g id="n73" transform="translate(330,287) scale(1.169,1) rotate(269.37) translate(0,-201) rotate(-269.37) scale(.8554,1)"><use href="#s" class="imwb" transform="rotate(269.37)"/><text class="l" transform="rotate(-0.63)" x="-11.5" dy=".35em">IMW-B.7</text></g>
<g id="n74" transform="translate(330,287) scale(1.169,1) rotate(273.06) translate(0,-201) rotate(-273.06) scale(.8554,1)"><use href="#o" class="chdl"/><text class="l" transform="rotate(3.06)" x="-11.5" dy=".35em">CHDL.3</text></g>
<g id="n75" transform="translate(330,287) scale(1.169,1) rotate(276.75) translate(0,-201) rotate(-276.75) scale(.8554,1)"><use href="#s" class="imwb" transform="rotate(276.75)"/><text class="l" transform="rotate(6.75)" x="-11.5" dy=".35em">IMW-B.1</text></g>
<g id="n76" transform="translate(330,287) scale(1.169,1) rotate(280.44) translate(0,-201) rotate(-280.44) scale(.8554,1)"><use href="#s" class="imwb" transform="rotate(280.44)"/><text class="l" transform="rotate(10.44)" x="-11.5" dy=".35em">IMW-B.2</text></g>
<g id="n77" transform="translate(330,287) scale(1.169,1) rotate(284.13) translate(0,-201) rotate(-284.13) scale(.8554,1)"><use href="#s" class="imwb" transform="rotate(284.13)"/><text class="l" transform="rotate(14.13)" x="-11.5" dy=".35em">IMW-B.3</text></g>
<g id="n78" transform="translate(330,287) scale(1.169,1) rotate(287.82) translate(0,-201) rotate(-287.82) scale(.8554,1)"><use href="#s" class="imwb" transform="rotate(287.82)"/><text class="l" transform="rotate(17.82)" x="-11.5" dy=".35em">IMW-B.6</text></g>
<g id="n79" transform="translate(330,287) scale(1.169,1) rotate(291.51) translate(0,-201) rotate(-291.51) scale(.8554,1)"><use href="#s" class="imwb" transform="rotate(291.51)"/><text class="l" transform="rotate(21.51)" x="-11.5" dy=".35em">IMW-B.4</text></g>
<g id="n80" transform="translate(330,287) scale(1.169,1) rotate(295.2) translate(0,-201) rotate(-295.2) scale(.8554,1)"><use href="#s" class="imwb" transform="rotate(295.2)"/><text class="l" transform="rotate(25.2)" x="-11.5" dy=".35em">IMW-B.5</text></g>
<g id="n81" transform="translate(330,287) scale(1.169,1) rotate(298.89) translate(0,-201) rotate(-298.89) scale(.8554,1)"><use href="#o" class="chdl"/><text class="l" transform="rotate(28.89)" x="-11.5" dy=".35em">CHDL.11</text></g>
<g id="n82" transform="translate(330,287) scale(1.169,1) rotate(302.58) translate(0,-201) rotate(-302.58) scale(.8554,1)"><use href="#o" class="chdl"/><text class="l" transform="rotate(32.58)" x="-11.5" dy=".35em">CHDL.4</text></g>
<g id="n83" transform="translate(330,287) scale(1.169,1) rotate(306.27) translate(0,-201) rotate(-306.27) scale(.8554,1)"><use href="#o" class="chdl"/><text class="l" transform="rotate(36.27)" x="-11.5" dy=".35em">CHDL.9</text></g>
<g id="n84" transform="translate(330,287) scale(1.169,1) rotate(309.96) translate(0,-201) rotate(-309.96) scale(.8554,1)"><use href="#o" class="chdl"/><text class="l" transform="rotate(39.96)" x="-11.5" dy=".35em">CHDL.5</text></g>
<g id="n85" transform="translate(330,287) scale(1.169,1) rotate(313.65) translate(0,-201) rotate(-313.65) scale(.8554,1)"><use href="#o" class="thba"/><text class="l" transform="rotate(43.65)" x="-11.5" dy=".35em">THBL-A.2</text></g>
<g id="n86" transform="translate(330,287) scale(1.169,1) rotate(317.34) translate(0,-201) rotate(-317.34) scale(.8554,1)"><use href="#o" class="chdl"/><text class="l" transform="rotate(47.34)" x="-11.5" dy=".35em">CHDL.7</text></g>
<g id="n87" transform="translate(330,287) scale(1.169,1) rotate(321.03) translate(0,-201) rotate(-321.03) scale(.8554,1)"><use href="#o" class="chdl"/><text class="l" transform="rotate(51.03)" x="-11.5" dy=".35em">CHDL.14</text></g>
<g id="n88" transform="translate(330,287) scale(1.169,1) rotate(324.72) translate(0,-201) rotate(-324.72) scale(.8554,1)"><use href="#o" class="chdl"/><text class="l" transform="rotate(54.72)" x="-11.5" dy=".35em">CHDL.10</text></g>
<g id="n89" transform="translate(330,287) scale(1.169,1) rotate(328.41) translate(0,-201) rotate(-328.41) scale(.8554,1)"><use href="#o" class="chdl"/><text class="l" transform="rotate(58.41)" x="-11.5" dy=".35em">CHDL.8</text></g>
<g id="n90" transform="translate(330,287) scale(1.169,1) rotate(332.1) translate(0,-201) rotate(-332.1) scale(.8554,1)"><use href="#o" class="chdl"/><text class="l" transform="rotate(62.1)" x="-11.5" dy=".35em">CHDL.12</text></g>
<g id="n91" transform="translate(330,287) scale(1.169,1) rotate(335.79) translate(0,-201) rotate(-335.79) scale(.8554,1)"><use href="#o" class="chdl"/><text class="l" transform="rotate(65.79)" x="-11.5" dy=".35em">CHDL.13</text></g>
<g id="n92" transform="translate(330,287) scale(1.169,1) rotate(339.48) translate(0,-201) rotate(-339.48) scale(.8554,1)"><use href="#o" class="imwa"/><text class="l" transform="rotate(69.48)" x="-11.5" dy=".35em">IMW-A.4</text></g>
</g>
</svg>
